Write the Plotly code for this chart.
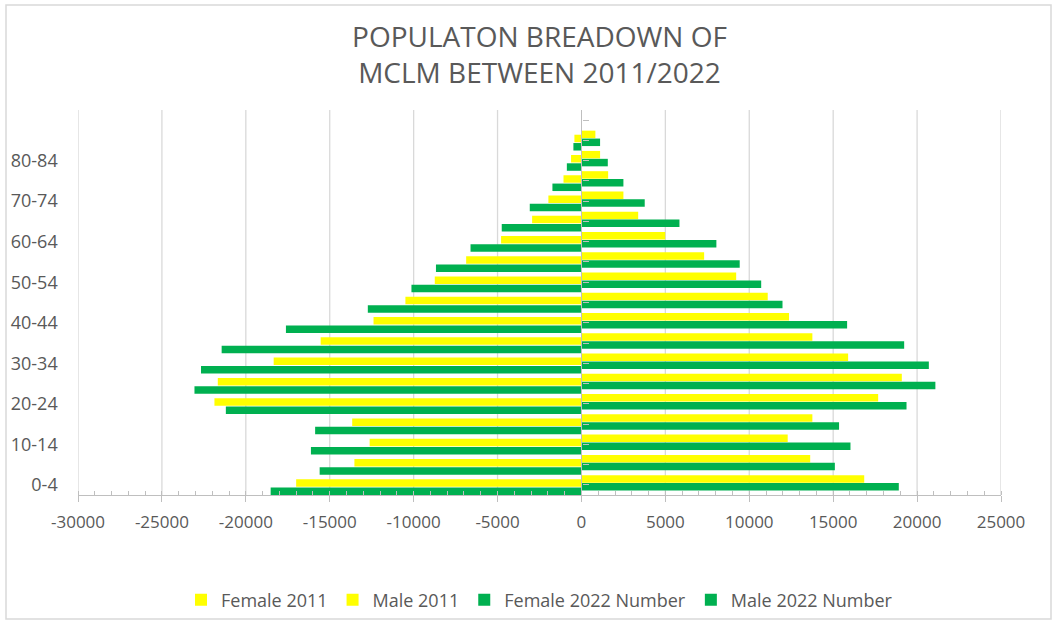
import plotly.graph_objects as go

# Age bands, youngest at the bottom of the pyramid
age_groups = ["0-4", "5-9", "10-14", "15-19", "20-24", "25-29", "30-34", "35-39",
              "40-44", "45-49", "50-54", "55-59", "60-64", "65-69", "70-74",
              "75-79", "80-84", "85+"]

# Head counts per age band
female_2011 = [17000, 13530, 12620, 13660, 21870, 21670, 18340, 15540, 12390,
               10490, 8740, 6870, 4790, 2940, 1970, 1070, 620, 420]
male_2011 = [16850, 13630, 12290, 13760, 17680, 19090, 15890, 13760, 12370,
             11100, 9220, 7310, 4990, 3380, 2500, 1590, 1110, 830]
female_2022 = [18520, 15600, 16120, 15870, 21190, 23060, 22670, 21440, 17610,
               12730, 10130, 8670, 6610, 4750, 3080, 1730, 870, 480]
male_2022 = [18910, 15100, 16030, 15350, 19370, 21090, 20700, 19230, 15830,
             11980, 10710, 9430, 8040, 5840, 3770, 2500, 1570, 1110]

x_ticks = [-30000, -25000, -20000, -15000, -10000, -5000, 0, 5000, 10000, 15000, 20000, 25000]

YELLOW = "#FFFF00"
GREEN = "#00B050"
TEXT = "#595959"
GRID = "#d9d9d9"
AXIS = "#bfbfbf"
FONT = "Open Sans, DejaVu Sans, sans-serif"

BAR_W = 0.37

# Band positions on the vertical axis (one empty slot is kept above the top band)
band_pos = list(range(len(age_groups)))
n_slots = len(age_groups) + 1
tick_pos = list(range(n_slots)) + [n_slots - 0.5]
tick_txt = [age_groups[i] if (i < len(age_groups) and i % 2 == 0) else "" for i in range(n_slots)] + [""]

fig = go.Figure()

# Females are drawn to the left of zero, males to the right
series = [
    ("Female 2011", [-v for v in female_2011], YELLOW, -0.09),
    ("Male 2011", male_2011, YELLOW, 0.11),
    ("Female 2022 Number", [-v for v in female_2022], GREEN, -0.50),
    ("Male 2022 Number", male_2022, GREEN, -0.28),
]
for name, values, color, off in series:
    fig.add_trace(go.Bar(
        name=name, x=values, y=band_pos, orientation="h",
        marker=dict(color=color, line=dict(width=0)),
        width=BAR_W, offset=off,
        customdata=age_groups, hovertemplate="%{customdata}: %{x}<extra>" + name + "</extra>",
    ))

# Vertical gridlines at every major value tick
for v in x_ticks:
    if v != 0:
        fig.add_vline(x=v, line=dict(color=GRID, width=1.3), layer="below")

fig.update_layout(
    width=1057, height=623,
    paper_bgcolor="white", plot_bgcolor="white",
    barmode="overlay",
    margin=dict(l=78, r=56, t=110, b=128, autoexpand=False),
    font=dict(family=FONT, color=TEXT, size=16),
    title=dict(
        text="POPULATON BREADOWN OF<br>MCLM BETWEEN 2011/2022",
        x=0.5, xref="paper", xanchor="center",
        y=1 - 47 / 623, yref="container", yanchor="middle",
        font=dict(family=FONT, size=28, color=TEXT),
    ),
    xaxis=dict(
        range=[-30000, 25000],
        tickvals=x_ticks, ticktext=[str(v) for v in x_ticks],
        showgrid=False, zeroline=False,
        showline=True, linecolor=AXIS, linewidth=1.3,
        ticks="outside", ticklen=6, tickcolor=AXIS, tickwidth=1.3,
        minor=dict(dtick=1000, ticks="inside", ticklen=4, tickcolor=AXIS, tickwidth=1),
        ticklabelstandoff=5,
        tickfont=dict(size=17, color=TEXT),
        layer="above traces",
        automargin=False,
        fixedrange=True,
    ),
    # Category axis crosses at zero; its labels sit out at the left edge
    yaxis=dict(
        range=[-0.5, n_slots - 0.5],
        anchor="free", position=30000 / 55000,
        tickvals=tick_pos, ticktext=tick_txt,
        showgrid=False, zeroline=False,
        showline=True, linecolor=AXIS, linewidth=1.3,
        ticks="inside", ticklen=6, tickcolor=AXIS, tickwidth=1.3,
        ticklabelstandoff=520,
        tickfont=dict(size=18, color=TEXT),
        layer="above traces",
        automargin=False,
        fixedrange=True,
    ),
    legend=dict(
        orientation="h", x=0.5, xanchor="center",
        y=1 - 600 / 623, yref="container", yanchor="middle",
        font=dict(size=18, color=TEXT), traceorder="normal",
        bgcolor="rgba(0,0,0,0)",
    ),
    shapes=list(fig.layout.shapes) + [dict(
        type="rect", xref="paper", yref="paper",
        x0=(6 - 78) / 923, x1=(1051 - 78) / 923,
        y0=(495 - 619) / 385, y1=(495 - 5) / 385,
        line=dict(color=GRID, width=1.5), fillcolor="rgba(0,0,0,0)",
    )],
)

fig.write_html("out.html")
